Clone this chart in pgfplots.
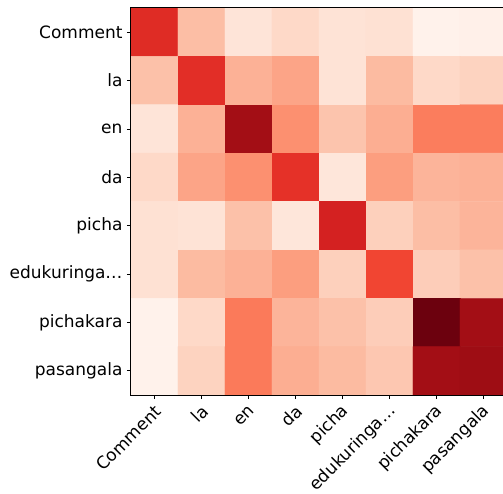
\documentclass[border=0pt]{standalone}
\usepackage{fontspec}
\setmainfont{DejaVu Sans}
\usepackage{pgfplots}
\pgfplotsset{compat=1.18}
\usepackage{pgfplotstable}

% rows: query token (y), columns: key token (x)
\pgfplotstableread{
x y c
0 0 0.68
1 0 0.24
2 0 0.10
3 0 0.15
4 0 0.11
5 0 0.12
6 0 0.02
7 0 0.03
0 1 0.23
1 1 0.67
2 1 0.28
3 1 0.32
4 1 0.11
5 1 0.25
6 1 0.15
7 1 0.17
0 2 0.10
1 2 0.28
2 2 0.88
3 2 0.38
4 2 0.22
5 2 0.29
6 2 0.44
7 2 0.44
0 3 0.15
1 3 0.32
2 3 0.38
3 3 0.66
4 3 0.09
5 3 0.34
6 3 0.27
7 3 0.28
0 4 0.12
1 4 0.11
2 4 0.23
3 4 0.09
4 4 0.72
5 4 0.18
6 4 0.24
7 4 0.27
0 5 0.12
1 5 0.25
2 5 0.28
3 5 0.34
4 5 0.18
5 5 0.60
6 5 0.19
7 5 0.23
0 6 0.02
1 6 0.15
2 6 0.45
3 6 0.27
4 6 0.23
5 6 0.19
6 6 0.99
7 6 0.88
0 7 0.02
1 7 0.17
2 7 0.45
3 7 0.29
4 7 0.25
5 7 0.21
6 7 0.88
7 7 0.89
}\attn

\begin{document}
\begin{tikzpicture}
\begin{axis}[
    name=ax,
    at={(0,0)}, anchor=south west,
    scale only axis,
    width=376pt, height=387pt,
    xmin=-0.5, xmax=7.5,
    ymin=-0.5, ymax=7.5,
    y dir=reverse,
    enlargelimits=false,
    axis on top,
    colormap={reds}{rgb255=(255,245,240) rgb255=(254,224,210) rgb255=(252,187,161)
        rgb255=(252,146,114) rgb255=(251,106,74) rgb255=(239,59,44)
        rgb255=(203,24,29) rgb255=(165,15,21) rgb255=(103,0,13)},
    point meta min=0, point meta max=1,
    xtick={0,...,7}, ytick={0,...,7},
    xticklabels={Comment,la,en,da,picha,edukuringa…,pichakara,pasangala},
    yticklabels={Comment,la,en,da,picha,edukuringa…,pichakara,pasangala},
    tick pos=left,
    tick align=outside,
    major tick length=4pt,
    tick style={black, line width=0.8pt},
    axis line style={line width=1pt},
    tick label style={font=\fontsize{17}{20}\selectfont},
    xticklabel style={xshift=6pt, yshift=-7pt, rotate=45, anchor=east},
    yticklabel style={xshift=-1pt},
]
\addplot[matrix plot*, mesh/cols=8, point meta=explicit] table[x=x, y=y, meta=c] {\attn};
\end{axis}
\pgfresetboundingbox
\useasboundingbox (-131pt,-99pt) rectangle (372pt,395pt);
\end{tikzpicture}
\end{document}
